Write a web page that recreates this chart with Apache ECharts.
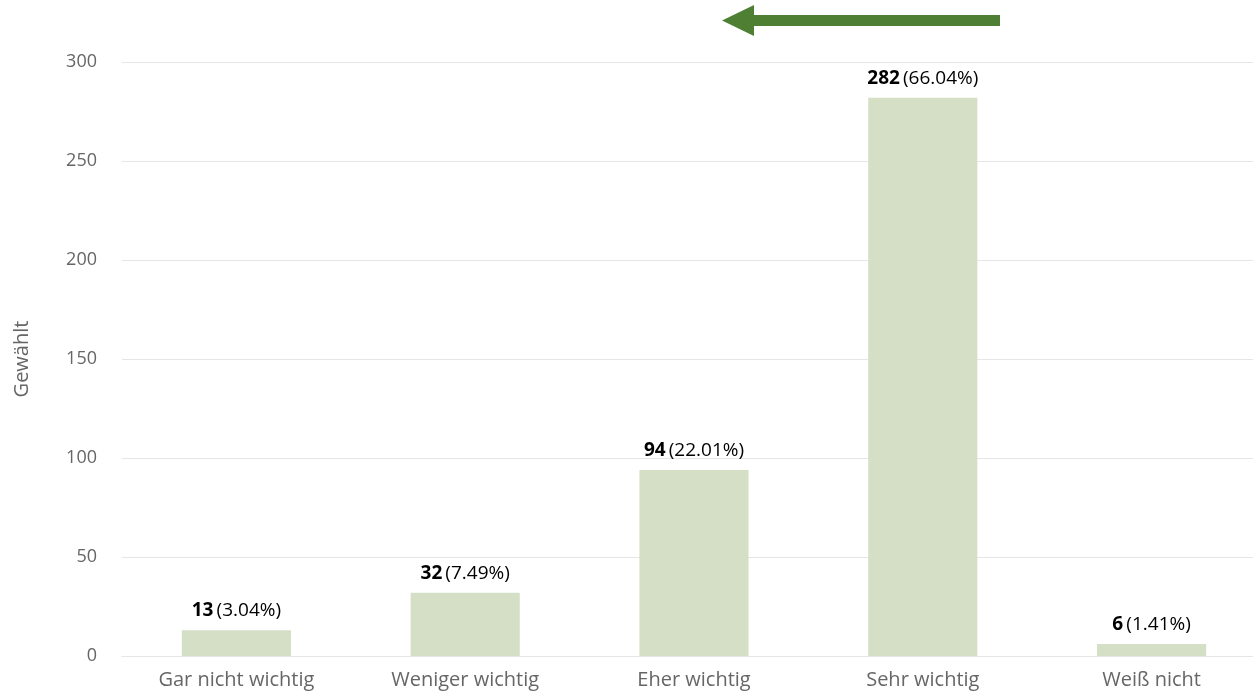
<!DOCTYPE html>
<html><head><meta charset="utf-8">
<script src="https://cdn.jsdelivr.net/npm/echarts@6/dist/echarts.min.js"></script>
<style>html,body{margin:0;padding:0;background:#fff}#c{width:1253px;height:697px}</style>
</head><body><div id="c"></div>
<script>
const categories = ['Gar nicht wichtig', 'Weniger wichtig', 'Eher wichtig', 'Sehr wichtig', 'Weiß nicht'];
const counts = [13, 32, 94, 282, 6];
const percents = ['3.04%', '7.49%', '22.01%', '66.04%', '1.41%'];
const yTicks = [0, 50, 100, 150, 200, 250, 300];

const chart = echarts.init(document.getElementById('c'));
const font = '"Open Sans", "Noto Sans", sans-serif';
chart.setOption({
  animation: false,
  textStyle: { fontFamily: font },
  grid: { left: 122, width: 1144, top: 62, bottom: 41, outerBoundsMode: 'none', containLabel: false },
  xAxis: {
    type: 'category', data: categories,
    axisTick: { show: false },
    axisLine: { lineStyle: { color: '#e6e6e6', width: 1 } },
    axisLabel: { color: '#666', fontSize: 20, margin: 14, fontFamily: font }
  },
  yAxis: {
    type: 'value', min: yTicks[0], max: yTicks[yTicks.length - 1], interval: 50,
    name: 'Gewählt', nameLocation: 'middle', nameGap: 90, nameRotate: 90,
    nameTextStyle: { color: '#666', fontSize: 20, fontFamily: font },
    axisLabel: { color: '#666', fontSize: 18, margin: 25, fontFamily: font },
    splitLine: { lineStyle: { color: '#e6e6e6', width: 1 } },
    axisLine: { show: false }, axisTick: { show: false }
  },
  series: [{
    type: 'bar',
    data: counts,
    barWidth: '47.7%',
    itemStyle: { color: '#d5dfc6' },
    label: {
      show: true, position: 'top', distance: 10,
      formatter: p => '{b|' + p.value + '} {n|(' + percents[p.dataIndex] + ')}',
      rich: {
        b: { fontWeight: 'bold', color: '#000', fontSize: 19, fontFamily: font },
        n: { color: '#000', fontSize: 19, fontFamily: font }
      }
    }
  }],
  graphic: [
    { type: 'rect', shape: { x: 752, y: 15, width: 248, height: 11 }, style: { fill: '#4e7f33' } },
    { type: 'polygon', shape: { points: [[722, 20.5], [754, 5], [754, 36]] }, style: { fill: '#4e7f33' } }
  ]
});
</script></body></html>
